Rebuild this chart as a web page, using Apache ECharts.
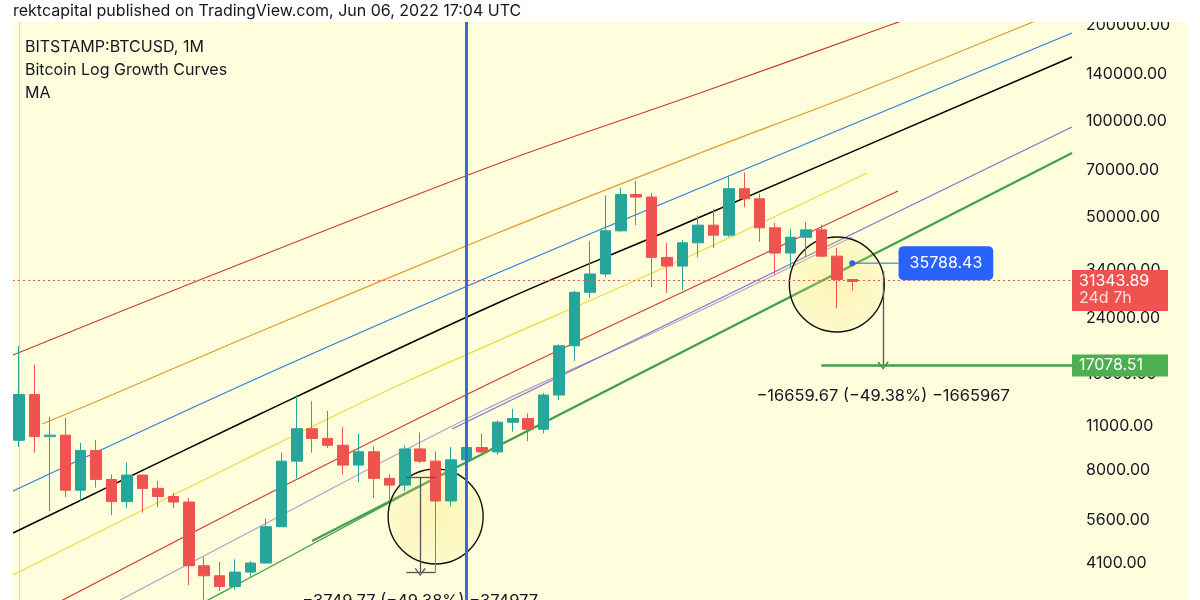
<!DOCTYPE html>
<html>
<head>
<meta charset="utf-8">
<script src="https://cdn.jsdelivr.net/npm/echarts@6/dist/echarts.min.js"></script>
<style>
html,body{margin:0;padding:0;background:#ffffff;}
#main{width:1200px;height:600px;}
</style>
</head>
<body>
<div id="main"></div>
<script>
// ---------- DATA ----------
const months = ['2017-12','2018-01','2018-02','2018-03','2018-04','2018-05','2018-06','2018-07','2018-08','2018-09','2018-10','2018-11','2018-12',
  '2019-01','2019-02','2019-03','2019-04','2019-05','2019-06','2019-07','2019-08','2019-09','2019-10','2019-11','2019-12',
  '2020-01','2020-02','2020-03','2020-04','2020-05','2020-06','2020-07','2020-08','2020-09','2020-10','2020-11','2020-12',
  '2021-01','2021-02','2021-03','2021-04','2021-05','2021-06','2021-07','2021-08','2021-09','2021-10','2021-11','2021-12',
  '2022-01','2022-02','2022-03','2022-04','2022-05','2022-06'];
const opens  = [9950,13860,10220,10330,6940,9250,7500,6390,7740,7030,6630,6370,4020,3740,3460,3840,4100,5330,8560,10820,10090,9600,8320,9160,7560,7200,9350,8560,6420,8640,9450,9150,11340,11650,10780,13800,19700,28990,33100,45200,58800,57700,37300,35040,41460,47100,43820,61300,57000,46200,38500,43160,45530,37640,31800];
const highs  = [19666,17180,11780,11700,9760,9990,7780,8490,7750,7410,6800,6560,4280,4130,4210,4160,5650,9100,13800,13200,12300,10950,10420,9520,7800,9600,10520,9190,9470,10070,10450,11500,12500,12100,14000,19900,29300,41950,58350,61780,64900,59500,41350,42350,50400,52900,66900,68900,59100,47900,45800,48200,47300,40000,31900];
const lows   = [9480,9100,5970,6600,6430,7080,5800,6110,5900,6150,6100,3500,3120,3350,3380,3700,4090,5320,7560,9100,9420,7780,7350,6560,6480,6900,8450,3850,6180,8110,8890,8950,10600,9900,10450,13300,17650,27850,32400,44900,47100,30100,28850,29450,37400,39900,43250,53600,41800,32950,34800,37400,37500,25800,29300];
const closes = [13860,10220,10330,6940,9250,7500,6390,7740,7030,6630,6370,4020,3740,3460,3840,4100,5330,8560,10820,10090,9600,8320,9160,7560,7200,9350,8560,6420,8640,9450,9150,11340,11650,10780,13800,19700,28990,33100,45200,58800,57700,37300,35040,41460,47100,43820,61300,57000,46200,38500,43160,45530,37640,31800,31343.89];

const priceTicks = [200000,140000,100000,70000,50000,34000,24000,16000,11000,8000,5600,4100];

// growth curves: [bar index, price]
const curveRedTop   = [[-0.39,18440],[11.54,31460],[31.17,73810],[44.13,122400],[56.64,201450],[57.5,208500]];
const curveOrange   = [[1.49,11196],[5.25,13315],[14.32,20540],[31.17,44815],[44.13,79330],[53.99,120650],[65.39,201450],[66.17,208850]];
const curveBlue     = [[-0.39,6900],[15.62,15725],[31.17,33575],[44.13,61600],[68.24,188740]];
const curveBlack    = [[-0.39,5094],[15.62,12033],[31.17,27030],[42.19,45470],[68.24,158710]];
const curveYellow   = [[-0.39,3761],[14.32,8507],[25.34,15388],[42.19,35310],[54.96,68650]];
const curveRedLow   = [[2.0,2990],[15.62,6560],[29.88,14525],[42.19,27820],[56.97,60290]];
const curveLilac    = [[5.57,2963],[14.32,4948],[29.88,12208],[42.19,22896],[53.99,43240]];
const curvePurple   = [[28.06,10799],[68.24,95710]];
const curveGreenThin= [[11.41,2985],[14.32,3550],[29.88,8950],[53.99,35060]];
const curveGreenBold= [[18.99,4808],[68.24,79330]];

const X_MIN = -0.39, X_MAX = 68.24;
const PRICE_MIN = 3139, PRICE_MAX = 204390;
const HALVING_INDEX = 29;
const CURRENT_PRICE = 31343.89;
const TARGET_PRICE = 17078.51;
const MARKED_PRICE = 35788.43;
const rangeLeft  = {index:26, top:7593.70, bottom:3843.93, text:'\u22123749.77 (\u221249.38%) \u2212374977'};
const rangeRight = {index:56, top:33738.18, bottom:17078.51, text:'\u221216659.67 (\u221249.38%) \u22121665967'};
const circles = [[27,5739],[53,30680]];

// ---------- CHART ----------
const L = Math.log10;
const toPts = arr => arr.map(([i, p]) => [i, L(p)]);
const FONT = 'Inter';
const curve = (pts, color, width, smooth) => ({
  type:'line', data: toPts(pts), symbol:'none', showSymbol:false, silent:true, smooth: smooth ? 0.35 : false,
  lineStyle:{color:color, width:width}, z: 1, animation:false
});
const ARROW = 'path://M5,0 L10,8 L9,8.9 L5,1.9 L1,8.9 L0,8 Z';

const chart = echarts.init(document.getElementById('main'));
const option = {
  animation:false,
  backgroundColor:'#fefddc',
  textStyle:{fontFamily:FONT},
  grid:{left:13, right:128, top:22, bottom:0, show:false},
  xAxis:{type:'value', min:X_MIN, max:X_MAX, show:false},
  yAxis:{
    type:'value', position:'right', min:L(PRICE_MIN), max:L(PRICE_MAX),
    splitLine:{show:false}, axisTick:{show:false},
    axisLine:{show:true, lineStyle:{color:'#d8d7c4', width:1}},
    axisLabel:{customValues: priceTicks.map(L), formatter: v => Math.pow(10, v).toFixed(2),
      color:'#131722', fontSize:16, margin:14, fontFamily:FONT}
  },
  graphic:[
    {type:'rect', shape:{x:0,y:0,width:1200,height:22}, style:{fill:'#ffffff'}, z:100, silent:true},
    {type:'rect', shape:{x:0,y:0,width:13,height:600}, style:{fill:'#ffffff'}, z:100, silent:true},
    {type:'rect', shape:{x:1187,y:0,width:13,height:600}, style:{fill:'#ffffff'}, z:100, silent:true},
    {type:'text', x:13, y:11, style:{text:'rektcapital published on TradingView.com, Jun 06, 2022 17:04 UTC',
      fill:'#131722', font:'16px Inter', textVerticalAlign:'middle'}, z:101},
    {type:'text', x:25, y:47, style:{text:'BITSTAMP:BTCUSD, 1M', fill:'#131722', font:'16px Inter', textVerticalAlign:'middle'}, z:101},
    {type:'text', x:25, y:70, style:{text:'Bitcoin Log Growth Curves', fill:'#131722', font:'16px Inter', textVerticalAlign:'middle'}, z:101},
    {type:'text', x:25, y:93, style:{text:'MA', fill:'#131722', font:'16px Inter', textVerticalAlign:'middle'}, z:101}
  ],
  series:[
    curve(curveRedTop,  '#c6402f', 1.2, true),
    curve(curveOrange,  '#e29a2a', 1.2, true),
    curve(curveBlue,    '#2d7dd7', 1.2, true),
    curve(curveBlack,   '#000000', 1.5, true),
    curve(curveYellow,  '#eedb3c', 1.2, true),
    curve(curveRedLow,  '#d33b2f', 1.2, true),
    curve(curveLilac,   '#b79ec6', 1.2, true),
    curve(curvePurple,  '#8a6cc9', 1.2, false),
    curve(curveGreenThin,'#3f9a45', 1.2, true),
    curve(curveGreenBold,'#45a04a', 2.2, false),
    { // circles (under the candles)
      type:'scatter', z:2, silent:true, clip:false,
      data: toPts(circles), symbol:'circle', symbolSize:95,
      itemStyle:{
        opacity:1,
        color:{type:'radial', x:0.5, y:0.5, r:0.5, colorStops:[
          {offset:0, color:'rgba(250,228,100,0.32)'},
          {offset:1, color:'rgba(250,234,120,0.18)'}]},
        borderColor:'#111111', borderWidth:1.4
      }
    },
    {
      type:'candlestick', z:3, barWidth:11,
      dimensions:['x','open','close','lowest','highest'],
      encode:{x:0, y:[1,2,3,4]},
      data: opens.map((o, i) => [i, L(o), L(closes[i]), L(lows[i]), L(highs[i])]),
      itemStyle:{color:'#26a69a', color0:'#ef5350', borderColor:'#26a69a', borderColor0:'#ef5350', borderColorDoji:'#ef5350', borderWidth:1}
    },
    { // halving vertical line + current price dotted line
      type:'line', data:[], z:4,
      markLine:{silent:true, symbol:'none', animation:false, label:{show:false},
        data:[
          {xAxis:HALVING_INDEX, lineStyle:{color:'#2f6fdc', width:3, type:'solid'}},
          {yAxis:L(CURRENT_PRICE), lineStyle:{color:'#e5584e', width:1, type:[2,3]}}
        ]}
    },
    // target green line
    {type:'line', z:5, symbol:'none', silent:true, data: toPts([[52, TARGET_PRICE],[X_MAX, TARGET_PRICE]]),
      lineStyle:{color:'#43a047', width:2.5}},
    { // price range tools
      type:'line', data:[], z:6,
      markLine:{silent:true, symbol:'none', animation:false, label:{show:false},
        data:[
          [{coord:[rangeLeft.index, L(rangeLeft.top)]}, {coord:[rangeLeft.index, L(rangeLeft.bottom)], symbol:ARROW, symbolSize:[11,8]}],
          [{coord:[rangeLeft.index-0.9, L(rangeLeft.top)]}, {coord:[rangeLeft.index+1, L(rangeLeft.top)]}],
          [{coord:[rangeLeft.index-0.9, L(rangeLeft.bottom)]}, {coord:[rangeLeft.index+1, L(rangeLeft.bottom)]}],
          [{coord:[rangeRight.index, L(rangeRight.top)]}, {coord:[rangeRight.index, L(rangeRight.bottom)], symbol:ARROW, symbolSize:[11,8]}]
        ],
        lineStyle:{color:'#555555', width:1.3, type:'solid'}}
    },
    { // range texts
      type:'scatter', z:7, silent:true, clip:false, symbolSize:0, itemStyle:{opacity:1},
      data:[
        {value:[rangeLeft.index, L(rangeLeft.bottom)], label:{formatter:rangeLeft.text, offset:[0,29]}},
        {value:[rangeRight.index, L(rangeRight.bottom)], label:{formatter:rangeRight.text, offset:[0,30]}}
      ],
      label:{show:true, position:'inside', color:'#131722', fontSize:16.5, fontFamily:FONT}
    },
    // marked price: dot + connector + label
    {type:'line', z:7, symbol:'none', silent:true, data: toPts([[54, MARKED_PRICE],[57, MARKED_PRICE]]),
      lineStyle:{color:'#2962ff', width:1}},
    {type:'scatter', z:8, silent:true, clip:false, symbolSize:6, itemStyle:{color:'#2962ff', opacity:1},
      data: toPts([[54, MARKED_PRICE]])},
    {type:'scatter', z:8, silent:true, clip:false, symbolSize:0, itemStyle:{opacity:1},
      data: toPts([[57, MARKED_PRICE]]),
      label:{show:true, position:'right', distance:0, formatter: MARKED_PRICE.toFixed(2),
        color:'#ffffff', fontSize:16, fontFamily:FONT, backgroundColor:'#2962ff',
        padding:[9,11,9,11], borderRadius:5}},
    // right axis badges
    {type:'scatter', z:9, silent:true, clip:false, symbolSize:0, itemStyle:{opacity:1},
      data:[
        {value:[X_MAX, L(CURRENT_PRICE)], label:{
          formatter:'{a|' + CURRENT_PRICE.toFixed(2) + '}\n{b|24d 7h}',
          backgroundColor:'#ef5350', padding:[3,8,4,7], offset:[0,9], width:81,
          rich:{a:{color:'#ffffff', fontSize:16, lineHeight:17, fontFamily:FONT},
                b:{color:'rgba(255,255,255,0.82)', fontSize:16, lineHeight:17, fontFamily:FONT}}}},
        {value:[X_MAX, L(TARGET_PRICE)], label:{
          formatter: TARGET_PRICE.toFixed(2), backgroundColor:'#4caf50', color:'#ffffff',
          padding:[3,8,3,7], width:81, fontSize:16, lineHeight:16, fontFamily:FONT}}
      ],
      label:{show:true, position:'right', distance:0}
    }
  ]
};
chart.setOption(option);
</script>
</body>
</html>
